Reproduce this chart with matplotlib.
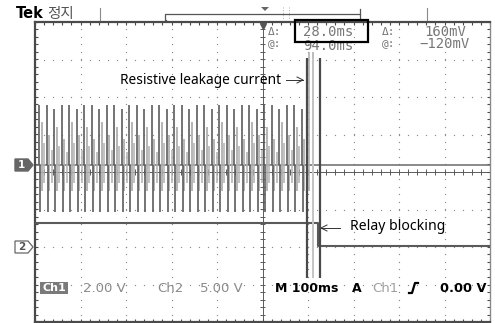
import matplotlib
matplotlib.use("Agg")
import matplotlib.pyplot as plt
from matplotlib.patches import Polygon, Rectangle
import numpy as np

# ---------------- data ----------------
TIME_PER_DIV_MS = 100          # M 100ms
CH1_V_PER_DIV = 2.0            # Ch1 2.00 V
CH2_V_PER_DIV = 5.0            # Ch2 5.00 V
CH1_OFFSET_DIV = 0.19          # position of marker "1"
CH2_OFFSET_DIV = -2.0          # position of marker "2"

# Ch1 (leakage current) spike instants, ms
spike_times_ms = [9, 25.5, 42, 58.5, 75, 91.5, 108, 124.5, 141, 157.5, 174, 190.5,
                  207, 223.5, 240, 256.5, 273, 289.5, 306, 322.5, 339, 355.5, 372,
                  388.5, 405, 421.5, 438, 454.5, 471, 487.5, 504, 520.5, 537, 553.5,
                  570, 586.5]
spike_up_v = [3.2, 3.2, 3.0, 3.2, 3.2, 3.0, 3.2, 3.2, 3.0, 3.2, 3.2, 3.0,
              3.2, 3.2, 3.0, 3.2, 3.2, 3.0, 3.2, 3.2, 3.0, 3.2, 3.2, 3.0,
              3.2, 3.2, 3.0, 3.2, 3.2, 3.0, 3.2, 3.2, 3.0, 3.2, 3.2, 3.0]
spike_down_v = -2.5
light_up_v = [2.3, 1.6, 2.0, 1.4, 2.3, 1.6, 2.0, 1.4, 2.3, 1.6, 2.0, 1.4,
              2.3, 1.6, 2.0, 1.4, 2.3, 1.6, 2.0, 1.4, 2.3, 1.6, 2.0, 1.4,
              2.3, 1.6, 2.0, 1.4, 2.3, 1.6, 2.0, 1.4, 2.3, 1.6, 2.0, 1.4]
light_down_v = -1.4
tail_light_times_ms = [603, 612]     # faint spikes between the cursors
tail_light_top_v = 6.0

# Ch2 (relay signal): high until the relay blocks, then low
ch2_times_ms = [0, 622, 622, 1000]
ch2_values_v = [3.25, 3.25, 0.1, 0.1]

# cursors (delta 28.0 ms)
cursor_times_ms = [598, 626]
cursor_mid_ms = 610

# readout texts
readout_delta_t = "28.0ms"
readout_at_t = "94.0ms"
readout_delta_v = "160mV"
readout_at_v = "\u2212120mV"

# ---------------- figure ----------------
W, H = 495, 323
fig = plt.figure(figsize=(W / 100, H / 100), dpi=100)
fig.patch.set_facecolor("white")

def fx(x):
    return x / W

def fy(y):
    return 1 - y / H

ax = fig.add_axes([fx(35), fy(322), 455 / W, 300 / H])
ax.set_xlim(0, 10)
ax.set_ylim(-4, 4)
ax.set_xticks([])
ax.set_yticks([])
for s in ax.spines.values():
    s.set_color("#4a4a4a")
    s.set_linewidth(1.6)
ax.spines["right"].set_color("#8a8a8a")
ax.spines["right"].set_linewidth(1.0)

GRID = "#8c8c8c"
# dotted graticule
for gx in range(1, 10):
    if gx == 5:
        continue
    ys = np.arange(-4, 4.01, 0.2)
    ax.scatter(np.full_like(ys, gx), ys, s=0.9, color=GRID, lw=0, zorder=1)
for gy in range(-3, 4):
    if gy == 0:
        continue
    xs = np.arange(0, 10.01, 0.2)
    ax.scatter(xs, np.full_like(xs, gy), s=0.9, color=GRID, lw=0, zorder=1)

# center cross with ticks
ax.axhline(0, color="#5a5a5a", lw=0.7, zorder=1)
ax.axvline(5, color="#5a5a5a", lw=0.7, zorder=1)
tx = np.arange(0, 10.01, 0.2)
ax.vlines(tx, -0.08, 0.08, color="#5a5a5a", lw=0.7, zorder=1)
ty = np.arange(-4, 4.01, 0.2)
ax.hlines(ty, 5 - 0.06, 5 + 0.06, color="#5a5a5a", lw=0.7, zorder=1)
# border ticks
ax.vlines(tx, 4 - 0.08, 4, color="#4a4a4a", lw=0.8, zorder=1)
ax.vlines(tx, -4, -4 + 0.08, color="#4a4a4a", lw=0.8, zorder=1)
ax.hlines(ty, 0, 0.06, color="#4a4a4a", lw=0.8, zorder=1)
ax.hlines(ty, 10 - 0.06, 10, color="#4a4a4a", lw=0.8, zorder=1)

# ---------------- Ch1 ----------------
def c1(v):
    return CH1_OFFSET_DIV + np.asarray(v) / CH1_V_PER_DIV

def tdiv(t):
    return np.asarray(t) / TIME_PER_DIV_MS

st = np.array(spike_times_ms)
DARK = "#5c5c5c"
LIGHT = "#b0b0b0"
# baseline
ax.plot([0, 10], [c1(0), c1(0)], color="#6a6a6a", lw=1.1, zorder=2)
# light oscillation
ax.vlines(tdiv(st + 5.5), c1(light_down_v), c1(light_up_v), color=LIGHT, lw=1.3, zorder=2)
ax.vlines(tdiv(st + 11), c1(light_down_v * 0.7), c1(np.array(light_up_v) * 0.5),
          color=LIGHT, lw=1.1, zorder=2)
# dark spikes
ax.vlines(tdiv(st), c1(0), c1(spike_up_v), color=DARK, lw=1.2, zorder=3)
ax.vlines(tdiv(st + 2.5), c1(spike_down_v), c1(0), color=DARK, lw=1.2, zorder=3)
ax.vlines(tdiv(tail_light_times_ms), c1(light_down_v), c1(tail_light_top_v),
          color=LIGHT, lw=1.2, zorder=2)

# ---------------- Ch2 ----------------
ch2_y = CH2_OFFSET_DIV + np.array(ch2_values_v) / CH2_V_PER_DIV
ax.plot(tdiv(ch2_times_ms), ch2_y, color="#5a5a5a", lw=1.5, zorder=3)

# ---------------- cursors ----------------
ax.vlines(tdiv(cursor_times_ms), -2.83, 3.04, color="#4a4a4a", lw=1.6, zorder=4)
ax.vlines(tdiv(cursor_mid_ms), -2.83, 3.04, color="#c4c4c4", lw=1.4, zorder=4)

# trigger position marker on top of graticule
ax.plot([tdiv(500)], [3.9], marker="v", color="#555555", ms=4, zorder=5, clip_on=False)

# ---------------- annotations ----------------
ann_font = ["Noto Sans", "DejaVu Sans"]
fig.text(fx(120), fy(80), "Resistive leakage current", fontsize=9.9, family=ann_font,
         color="black", va="center", ha="left")
fig.add_artist(plt.Line2D([fx(286), fx(303)], [fy(80), fy(80)], color="#333333", lw=0.7))
fig.add_artist(plt.Line2D([fx(297), fx(303), fx(297)], [fy(77), fy(80), fy(83)],
                          color="#333333", lw=0.7))
fig.text(fx(350), fy(227), "Relay blocking", fontsize=10.1, family=ann_font,
         color="black", va="center", ha="left")
fig.add_artist(plt.Line2D([fx(321), fx(340)], [fy(228), fy(228)], color="#333333", lw=0.7))
fig.add_artist(plt.Line2D([fx(327), fx(321), fx(327)], [fy(225), fy(228), fy(231)],
                          color="#333333", lw=0.7))

# ---------------- readouts ----------------
mono = ["DejaVu Sans Mono"]
RC = "#777777"
fig.text(fx(268), fy(32), "\u0394:", fontsize=8, family=mono, color=RC, va="center")
fig.text(fx(268), fy(44.5), "@:", fontsize=8, family=mono, color=RC, va="center")
fig.text(fx(303), fy(32), readout_delta_t, fontsize=10, family=mono, color=RC, va="center")
fig.text(fx(303), fy(46), readout_at_t, fontsize=10, family=mono, color=RC, va="center")
fig.add_artist(Rectangle((fx(295), fy(42)), (368 - 295) / W, (42 - 20) / H,
                         facecolor="none", edgecolor="black", lw=1.6, zorder=10))
fig.text(fx(382), fy(32), "\u0394:", fontsize=8, family=mono, color=RC, va="center")
fig.text(fx(382), fy(44.5), "@:", fontsize=8, family=mono, color=RC, va="center")
fig.text(fx(466), fy(32), readout_delta_v, fontsize=10, family=mono, color=RC,
         va="center", ha="right")
fig.text(fx(470), fy(44.5), readout_at_v, fontsize=10, family=mono, color=RC,
         va="center", ha="right")

# ---------------- header ----------------
fig.text(fx(16), fy(14), "Tek", fontsize=10.5, weight="bold", family=["DejaVu Sans"],
         color="black", va="center")
fig.text(fx(47), fy(14), "정지", fontsize=10.5, family=["Noto Sans CJK KR", "DejaVu Sans"],
         color="#555555", va="center")
HC = "#8a8a8a"
fig.add_artist(plt.Line2D([fx(100), fx(100)], [fy(8), fy(20)], color=HC, lw=0.8))
fig.add_artist(plt.Line2D([fx(427), fx(427)], [fy(8), fy(20)], color=HC, lw=0.8))
fig.add_artist(plt.Line2D([fx(166), fx(165), fx(165), fx(360), fx(360), fx(359)],
                          [fy(20), fy(20), fy(14), fy(14), fy(20), fy(20)],
                          color="#555555", lw=0.9))
fig.add_artist(plt.Line2D([fx(360), fx(360)], [fy(9), fy(14)], color="#555555", lw=0.9))
fig.add_artist(plt.Line2D([fx(283), fx(283)], [fy(7), fy(20)], color="#aaaaaa", lw=0.7, ls=":"))
fig.add_artist(plt.Line2D([fx(289), fx(289)], [fy(7), fy(20)], color="#aaaaaa", lw=0.7, ls=":"))
fig.add_artist(Polygon([(fx(261), fy(7)), (fx(269), fy(7)), (fx(265), fy(11))],
                       closed=True, facecolor="#666666", edgecolor="none"))

# ---------------- channel markers ----------------
fig.add_artist(Polygon([(fx(15), fy(159)), (fx(28), fy(159)), (fx(33), fy(165)),
                        (fx(28), fy(171)), (fx(15), fy(171))], closed=True,
                       facecolor="#666666", edgecolor="#666666"))
fig.text(fx(21.5), fy(165), "1", fontsize=7.5, weight="bold", color="white",
         ha="center", va="center")
fig.add_artist(Polygon([(fx(15), fy(241)), (fx(28), fy(241)), (fx(33), fy(247)),
                        (fx(28), fy(253)), (fx(15), fy(253))], closed=True,
                       facecolor="white", edgecolor="#666666", lw=0.9))
fig.text(fx(21.5), fy(247), "2", fontsize=7.5, weight="bold", color="#555555",
         ha="center", va="center")

# ---------------- bottom status line ----------------
SF = ["DejaVu Sans"]
fig.add_artist(Rectangle((fx(40), fy(294)), 28 / W, 12 / H, facecolor="#7a7a7a",
                         edgecolor="none"))
fig.text(fx(54), fy(288), "Ch1", fontsize=8, weight="bold", family=SF, color="white",
         ha="center", va="center")
fig.text(fx(83), fy(288), "2.00 V", fontsize=9.5, family=SF, color="#8a8a8a", va="center")
fig.text(fx(157), fy(288), "Ch2", fontsize=9.5, family=SF, color="#8a8a8a", va="center")
fig.text(fx(200), fy(288), "5.00 V", fontsize=9.5, family=SF, color="#8a8a8a", va="center")
fig.text(fx(275), fy(288), "M 100ms", fontsize=9, weight="bold", family=SF,
         color="black", va="center")
fig.text(fx(352), fy(288), "A", fontsize=9, weight="bold", family=SF, color="black",
         va="center")
fig.text(fx(372), fy(288), "Ch1", fontsize=9.5, family=SF, color="#a0a0a0", va="center")
fig.add_artist(plt.Line2D([fx(409), fx(412), fx(415), fx(418)],
                          [fy(293), fy(293), fy(283), fy(283)], color="black", lw=1.6))
fig.text(fx(440), fy(288), "0.00 V", fontsize=9.3, weight="bold", family=SF,
         color="black", va="center")

fig.savefig("out.png", dpi=100, facecolor="white")
